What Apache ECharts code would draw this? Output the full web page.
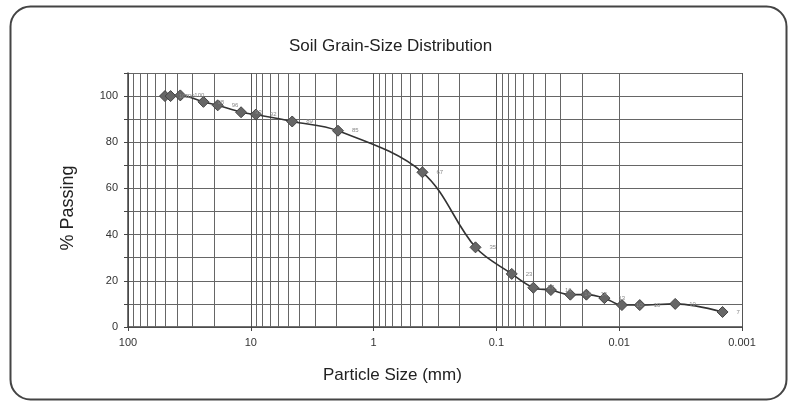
<!DOCTYPE html>
<html>
<head>
<meta charset="utf-8">
<script src="https://cdn.jsdelivr.net/npm/echarts@6/dist/echarts.min.js"></script>
<style>
body{margin:0;background:#fff;}
#chart{width:793px;height:401px;}
</style>
</head>
<body>
<div id="chart"></div>
<script>
// grain size (mm) and % passing
var sizes   = [50, 45, 37.5, 24.3, 18.6, 12, 9.1, 4.6, 1.95, 0.40, 0.148, 0.075, 0.050, 0.036, 0.025, 0.0185, 0.0132, 0.0095, 0.0068, 0.0035, 0.00144];
var passing = [100, 100, 100.3, 97.5, 96, 93, 92, 89, 85, 67, 34.5, 23, 17, 16, 14, 14, 12.5, 9.5, 9.5, 10, 6.5];
var xTicks  = [100, 10, 1, 0.1, 0.01, 0.001];
var yTicks  = [0, 20, 40, 60, 80, 100];

// log paper: lines at 2..9 in each decade
var minorLines = [];
[0.001, 0.01, 0.1, 1, 10].forEach(function(d){
  for (var k = 2; k <= 9; k++) minorLines.push({xAxis: +(d * k).toPrecision(3)});
});

var pts = sizes.map(function(s, i){ return [s, passing[i]]; });

var chart = echarts.init(document.getElementById('chart'));
chart.setOption({
  animation: false,
  backgroundColor: '#fff',
  title: {
    text: 'Soil Grain-Size Distribution',
    left: 284, top: 33,
    textStyle: {fontFamily: 'Liberation Sans', fontSize: 17, fontWeight: 'normal', color: '#222'}
  },
  grid: {left: 128, right: 51, top: 73, bottom: 74},
  xAxis: {
    type: 'log', logBase: 10, min: 0.001, max: 100, inverse: true,
    axisLine: {lineStyle: {color: '#444', width: 1.5}},
    axisTick: {show: true, length: 4, lineStyle: {color: '#444'}},
    axisLabel: {
      color: '#333', fontSize: 11, fontFamily: 'Liberation Sans', margin: 10,
      formatter: function(v){ return xTicks.indexOf(+v.toPrecision(3)) >= 0 ? String(+v.toPrecision(3)) : ''; }
    },
    splitLine: {show: true, lineStyle: {color: '#555', width: 1}}
  },
  yAxis: {
    type: 'value', min: 0, max: 110, interval: 10,
    axisLine: {show: true, lineStyle: {color: '#444', width: 1.5}},
    axisTick: {show: true, length: 4, lineStyle: {color: '#444'}},
    axisLabel: {
      color: '#333', fontSize: 11, fontFamily: 'Liberation Sans', margin: 10,
      formatter: function(v){ return yTicks.indexOf(v) >= 0 ? String(v) : ''; }
    },
    splitLine: {show: true, lineStyle: {color: '#666', width: 1}}
  },
  graphic: [
    {type: 'rect', left: 8, top: 4, shape: {width: 776, height: 393, r: 20},
     style: {fill: 'none', stroke: '#444', lineWidth: 2}},
    {type: 'text', left: 323, top: 367,
     style: {text: 'Particle Size (mm)', font: '17px "Liberation Sans"', fill: '#222'}},
    {type: 'text', x: 68, y: 208, rotation: Math.PI / 2, origin: [0, 0],
     style: {text: '% Passing', font: '18px "Liberation Sans"', fill: '#222', align: 'center', verticalAlign: 'middle'}}
  ],
  series: [
    {
      type: 'line', data: [], silent: true,
      markLine: {
        silent: true, symbol: 'none', label: {show: false},
        lineStyle: {color: '#666', width: 1, type: 'solid'},
        data: minorLines
      }
    },
    {
      type: 'line', data: pts, smooth: 0.35,
      symbol: 'diamond', symbolSize: 11,
      itemStyle: {color: '#666', borderColor: '#444', borderWidth: 1},
      lineStyle: {color: '#333', width: 1.6},
      label: {
        show: true, position: 'right', distance: 8, fontSize: 6, color: '#888',
        formatter: function(p){ return Math.round(p.value[1]); }
      },
      z: 5
    }
  ]
});
</script>
</body>
</html>
